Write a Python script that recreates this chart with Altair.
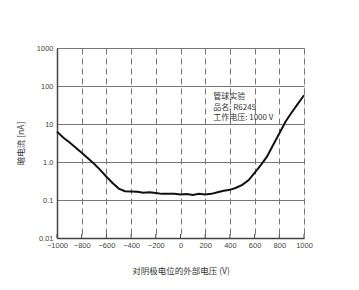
import altair as alt
import pandas as pd

voltage = [-1000, -950, -900, -850, -800, -750, -700, -650, -600, -550, -500, -450,
           -400, -350, -300, -250, -200, -150, -100, -50, 0, 50, 100, 150, 200, 250,
           300, 350, 400, 450, 500, 550, 600, 650, 700, 750, 800, 850, 900, 950, 1000]
current = [6.3, 4.4, 3.3, 2.4, 1.76, 1.25, 0.9, 0.62, 0.41, 0.28, 0.2, 0.17,
           0.168, 0.165, 0.155, 0.16, 0.152, 0.145, 0.147, 0.145, 0.14, 0.143, 0.135, 0.145, 0.14, 0.145,
           0.16, 0.175, 0.185, 0.21, 0.25, 0.33, 0.52, 0.83, 1.38, 2.8, 5.6, 11.5, 20, 34, 57]

note_lines = ["管球实验", "品名: R6249", "工作电压: 1000 V"]
note_x = [265, 265, 265]
note_y = [51, 26, 14.4]

x_ticks = [-1000, -800, -600, -400, -200, 0, 200, 400, 600, 800, 1000]
y_ticks = [0.01, 0.1, 1, 10, 100, 1000]

FONT = "Noto Sans CJK SC"
LFONT = "Liberation Sans"

df = pd.DataFrame({"v": voltage, "i": current})
notes = pd.DataFrame({"t": note_lines, "v": note_x, "i": note_y})
ticks = pd.DataFrame({"v": x_ticks})

xs = alt.Scale(domain=[-1000, 1000], nice=False, zero=False)
ys = alt.Scale(type="log", domain=[0.01, 1000], nice=False)

x_axis = alt.Axis(
    values=x_ticks, format="d", grid=True, gridDash=[6, 4], gridColor="#777", gridWidth=1,
    ticks=False, domainColor="#444", domainWidth=1.5, labelOverlap=False, labelFlush=False,
    labelFontSize=7.5, labelColor="#444", labelPadding=3, labelFont=LFONT,
    title="对阴极电位的外部电压 (V)", titleFont=FONT, titleFontSize=8.5,
    titleFontWeight="normal", titleColor="#333", titleBaseline="middle", titleY=32)
y_axis = alt.Axis(
    values=y_ticks, grid=True, gridColor="#777", gridWidth=1, ticks=False,
    domainColor="#444", domainWidth=1.5, labelOverlap=False, labelFlush=False,
    labelExpr="datum.value >= 10 ? format(datum.value, 'd') : (datum.value == 1 ? '1.0' : (datum.value == 0.1 ? '0.1' : '0.01'))",
    labelFontSize=7.5, labelColor="#444", labelPadding=4, labelFont=LFONT,
    title="暗电流 [nA]", titleFont=FONT, titleFontSize=8.5, titleFontWeight="normal",
    titleColor="#333", titleX=-37, titleY=95, titleAngle=-90, titleBaseline="middle")

X = alt.X("v:Q", scale=xs, axis=x_axis)
Y = alt.Y("i:Q", scale=ys, axis=y_axis)

tick_marks = alt.Chart(ticks).mark_rule(color="#444", strokeWidth=1).encode(
    x=X, y=alt.value(186), y2=alt.value(190))

line = alt.Chart(df).mark_line(color="#111", strokeWidth=2).encode(x=X, y=Y)

text = alt.Chart(notes).mark_text(align="left", baseline="middle", fontSize=8,
                                  font=FONT, color="#333").encode(x=X, y=Y, text="t:N")

chart = alt.layer(line, tick_marks, text).properties(
    width=247, height=190,
    autosize=alt.AutoSizeParams(type="none"),
    padding={"left": 57, "top": 48, "right": 55, "bottom": 52},
).configure_view(stroke="#444", strokeWidth=1.5).configure(background="white")

chart.save("out.html", embed_options={"renderer": "svg", "actions": False})
